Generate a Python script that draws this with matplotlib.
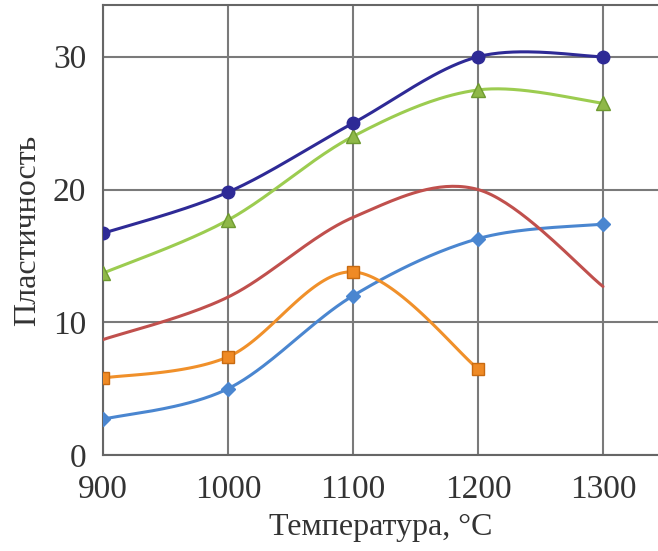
import numpy as np
import matplotlib
matplotlib.use("Agg")
import matplotlib.pyplot as plt

temps = [900, 1000, 1100, 1200, 1300]
s_dark = [16.7, 19.8, 25.0, 30.0, 30.0]
s_green = [13.7, 17.7, 24.0, 27.5, 26.5]
s_red = [8.7, 11.9, 17.9, 20.0, 12.7]
temps_orange = [900, 1000, 1100, 1200]
s_orange = [5.8, 7.4, 13.8, 6.5]
s_light = [2.7, 5.0, 12.0, 16.3, 17.4]

xticks = [900, 1000, 1100, 1200, 1300]
yticks = [0, 10, 20, 30]


def smooth(x, y, n=40):
    x = np.asarray(x, float)
    y = np.asarray(y, float)
    px = np.concatenate([[x[0]], x, [x[-1]]])
    py = np.concatenate([[y[0]], y, [y[-1]]])
    xs, ys = [], []
    t = np.linspace(0, 1, n)
    for i in range(1, len(px) - 2):
        p0x, p1x, p2x, p3x = px[i - 1], px[i], px[i + 1], px[i + 2]
        p0y, p1y, p2y, p3y = py[i - 1], py[i], py[i + 1], py[i + 2]
        c1x = p1x + (p2x - p0x) / 6
        c1y = p1y + (p2y - p0y) / 6
        c2x = p2x - (p3x - p1x) / 6
        c2y = p2y - (p3y - p1y) / 6
        bx = (1 - t) ** 3 * p1x + 3 * (1 - t) ** 2 * t * c1x + 3 * (1 - t) * t ** 2 * c2x + t ** 3 * p2x
        by = (1 - t) ** 3 * p1y + 3 * (1 - t) ** 2 * t * c1y + 3 * (1 - t) * t ** 2 * c2y + t ** 3 * p2y
        xs.append(bx)
        ys.append(by)
    return np.concatenate(xs), np.concatenate(ys)


plt.rcParams['font.family'] = ['Liberation Serif', 'DejaVu Serif']

fig = plt.figure(figsize=(6.58, 5.51), dpi=100)
ax = fig.add_axes([0.1565, 0.174, 0.8435, 0.817])

series = [
    (temps, s_light, '#4a86d0', 'D', '#4a86d0', '#4a86d0', 7),
    (temps_orange, s_orange, '#f0902a', 's', '#ef8a25', '#c86a10', 8),
    (temps, s_red, '#c0504d', None, None, None, 0),
    (temps, s_green, '#9ccc50', '^', '#8fb848', '#6e9a30', 10),
    (temps, s_dark, '#2e2a96', 'o', '#2e2a96', '#2e2a96', 9),
]
for x, y, c, m, fc, ec, ms in series:
    sx, sy = smooth(x, y)
    ax.plot(sx, sy, color=c, lw=2.2, zorder=3, solid_capstyle='round')
    if m:
        ax.plot(x, y, linestyle='none', marker=m, markersize=ms,
                markerfacecolor=fc, markeredgecolor=ec, zorder=4)

ax.set_xlim(900, 1344)
ax.set_ylim(0, 33.9)
ax.set_xticks(xticks)
ax.set_yticks(yticks)
ax.grid(True, color='#7a7a7a', lw=1.5)
ax.set_axisbelow(True)
ax.tick_params(length=0, labelsize=24, colors='#333333')
ax.tick_params(axis='x', pad=14)
ax.tick_params(axis='y', pad=12)
for s in ['right']:
    ax.spines[s].set_visible(False)
for s in ['left', 'bottom', 'top']:
    ax.spines[s].set_color('#666666')
    ax.spines[s].set_linewidth(1.5)

ax.set_xlabel('Температура, °C', fontsize=23, color='#333333', labelpad=6)
ax.set_ylabel('Пластичность', fontsize=23, color='#333333', labelpad=8)

fig.savefig('out.png', dpi=100)
